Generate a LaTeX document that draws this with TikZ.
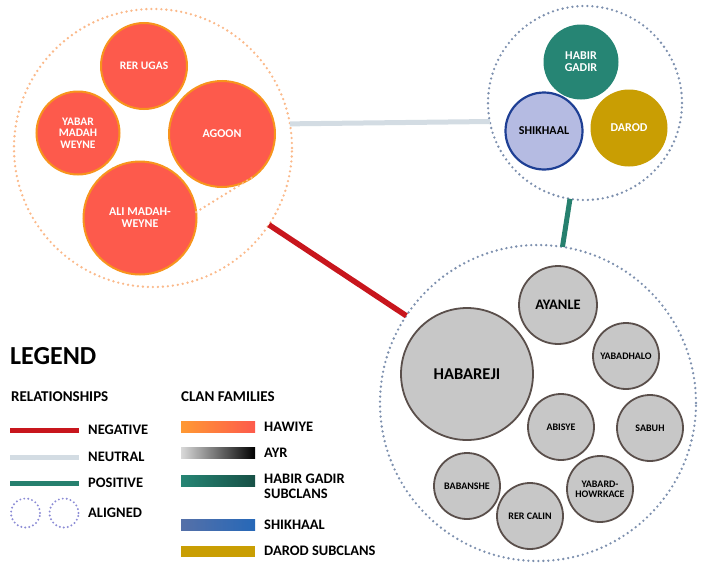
\documentclass[tikz,border=0pt]{standalone}
\usepackage{fontspec}
\setmainfont{Carlito}
\definecolor{hred}{HTML}{FD5A4C}
\definecolor{horange}{HTML}{F7941D}
\definecolor{ldot}{HTML}{FBB98A}
\definecolor{bdot}{HTML}{7D90AE}
\definecolor{hteal}{HTML}{268574}
\definecolor{shik}{HTML}{B5BBE2}
\definecolor{shikb}{HTML}{1E3F94}
\definecolor{darod}{HTML}{C99E03}
\definecolor{ayr}{HTML}{C7C7C7}
\definecolor{ayrb}{HTML}{5A4F4B}
\definecolor{negc}{HTML}{C8161D}
\definecolor{neuc}{HTML}{D3DCE3}
\definecolor{posc}{HTML}{26806E}
\definecolor{alig}{HTML}{8B8BD5}
\newcommand{\fs}[1]{\fontsize{#1}{#1}\selectfont\bfseries}
\begin{document}
\begin{tikzpicture}[x=1pt,y=-1pt,
  dotring/.style={circle,draw=#1,line width=2.6pt,dash pattern=on 0pt off 5pt,line cap=round,inner sep=0pt,outer sep=0pt},
  hawi/.style={circle,fill=hred,draw=horange,line width=2pt,text=white,inner sep=0pt,outer sep=0pt,align=center,font=\fs{11.5}\linespread{1.05}},
  ayrc/.style={circle,fill=ayr,draw=ayrb,line width=1.8pt,text=black,inner sep=0pt,outer sep=0pt,align=center,font=\fs{10}},
  alring/.style={circle,draw=alig,line width=2.2pt,dash pattern=on 0pt off 4pt,line cap=round,minimum size=29pt,inner sep=0pt},
  lgtext/.style={anchor=west,inner sep=0pt,font=\fs{14.5},align=left},
  swatch/.style={minimum width=74pt,minimum height=11pt,inner sep=0pt,anchor=west}
]
\useasboundingbox (0,0) rectangle (701,562);
% left group
\node[dotring=ldot,minimum size=278pt] (cL) at (153,148) {};
\node[hawi,minimum size=86pt] (rerugas) at (144,66) {RER UGAS};
\node[hawi,minimum size=83pt] (yabar) at (78,133) {YABAR\\MADAH\\WEYNE};
\node[hawi,minimum size=106pt,font=\fs{12}] (agoon) at (222,134) {AGOON};
\node[hawi,minimum size=113pt,font=\fs{12}] (ali) at (140,218) {ALI MADAH-\\WEYNE};
\draw[ldot,line width=2.6pt,dash pattern=on 0pt off 5pt,line cap=round] (ali.6) -- (agoon.-54);
% top right group
\node[dotring=bdot,minimum size=194pt] (cTR) at (585,103) {};
\node[circle,fill=hteal,text=white,inner sep=0pt,outer sep=0pt,minimum size=75pt,align=center,font=\fs{12}] (habir) at (581,62) {HABIR\\GADIR};
\node[circle,fill=shik,draw=shikb,line width=2.2pt,inner sep=0pt,outer sep=0pt,minimum size=77pt,font=\fs{12}] (shikhaal) at (544,131) {SHIKHAAL};
\node[circle,fill=darod,text=white,inner sep=0pt,outer sep=0pt,minimum size=77pt,font=\fs{12}] (darod) at (629,128) {DAROD};
% bottom right group
\node[dotring=bdot,minimum size=316pt] (cBR) at (538,403) {};
\node[ayrc,minimum size=132pt,font=\fs{16.5}] (habareji) at (467,374) {HABAREJI};
\node[ayrc,minimum size=78pt,font=\fs{14.5}] (ayanle) at (558,305) {AYANLE};
\node[ayrc,minimum size=66pt] (yabadhalo) at (626,356) {YABADHALO};
\node[ayrc,minimum size=66pt] (abisye) at (561,427) {ABISYE};
\node[ayrc,minimum size=66pt] (sabuh) at (650,428) {SABUH};
\node[ayrc,minimum size=66pt] (babanshe) at (467,486) {BABANSHE};
\node[ayrc,minimum size=66pt] (rercalin) at (530,516) {RER CALIN};
\node[ayrc,minimum size=66pt] (yabard) at (600,489) {YABARD-\\HOWRKACE};
% relationships
\draw[neuc,line width=5pt] (cL.10.8) -- (cTR.191.3);
\draw[negc,line width=5.5pt] (cL) -- (cBR);
\draw[posc,line width=5pt] (cTR) -- (cBR);
% legend
\node[lgtext,font=\fs{26}] (legend) at (10,356) {LEGEND};
\node[lgtext,font=\fs{15}] (rel) at (11,397) {RELATIONSHIPS};
\node[lgtext,font=\fs{15}] (clan) at (181,397) {CLAN FAMILIES};
\draw[negc,line width=5pt] (10,430) -- (79,430);
\node[lgtext] (tneg) at (88,430) {NEGATIVE};
\draw[neuc,line width=5pt] (10,457) -- (79,457);
\node[lgtext] (tneu) at (88,457) {NEUTRAL};
\draw[posc,line width=5pt] (10,483) -- (79,483);
\node[lgtext] (tpos) at (88,483) {POSITIVE};
\node[alring] (al1) at (25.5,513) {};
\node[alring] (al2) at (64,513) {};
\node[lgtext] (tal) at (88,513) {ALIGNED};
\node[swatch,left color={rgb,255:red,255;green,153;blue,51},right color=hred] (sw1) at (181,427) {};
\node[lgtext] (thaw) at (264,427) {HAWIYE};
\node[swatch,left color=black!15,right color=black] (sw2) at (181,453) {};
\node[lgtext] (tayr) at (264,453) {AYR};
\node[swatch,left color=hteal,right color=hteal!60!black] (sw3) at (181,481) {};
\node[lgtext,anchor=north west] (thab) at (264,473.5) {HABIR GADIR\\[1pt]SUBCLANS};
\node[swatch,left color={rgb,255:red,85;green,112;blue,168},right color={rgb,255:red,38;green,104;blue,184}] (sw4) at (181,525) {};
\node[lgtext] (tshi) at (264,525) {SHIKHAAL};
\node[swatch,fill=darod] (sw5) at (181,551) {};
\node[lgtext] (tdar) at (264,551) {DAROD SUBCLANS};
\end{tikzpicture}
\end{document}
